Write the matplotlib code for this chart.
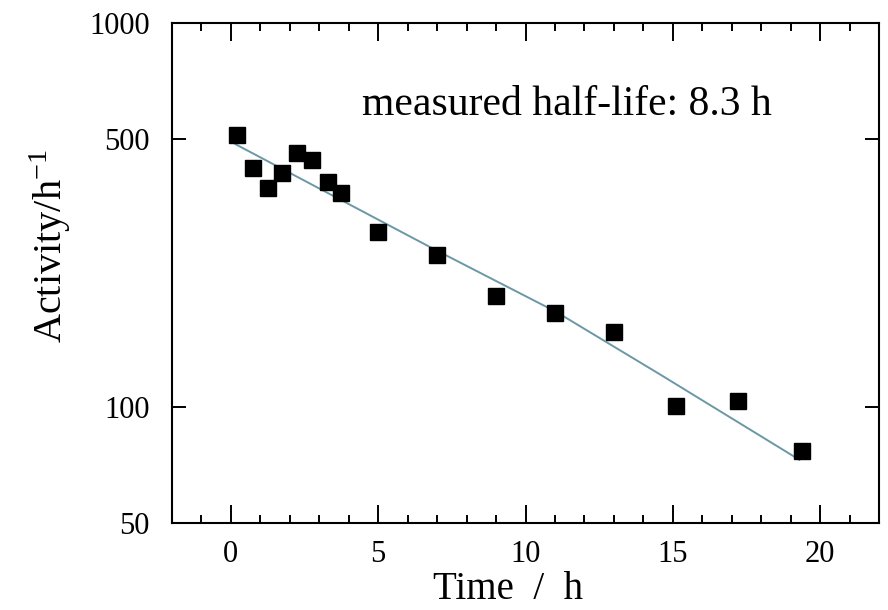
import matplotlib
matplotlib.use("Agg")
import matplotlib.pyplot as plt
from matplotlib.ticker import FixedLocator, MultipleLocator, NullLocator, FixedFormatter

# measured activity
time_h = [0.2, 0.75, 1.25, 1.75, 2.25, 2.75, 3.3, 3.75, 5.0, 7.0, 9.0, 11.0, 13.0, 15.1, 17.2, 19.4]
activity = [511, 420, 372, 407, 458, 440, 386, 362, 286, 249, 195, 176, 157, 101, 104, 77]

# fitted curve, points
fit_time = [0.15, 6.85, 11.05, 14.55, 19.3]
fit_activity = [484, 259, 177, 122, 73]

y_ticks = [50, 100, 500, 1000]
y_ticklabels = ['50', '100', '500', '1000']

plt.rcParams['font.family'] = ['Liberation Serif', 'DejaVu Serif']
plt.rcParams['mathtext.fontset'] = 'stix'

fig = plt.figure(figsize=(8.88, 6.10), dpi=100)
ax = fig.add_axes([0.1937, 0.1426, 0.7962, 0.8197])

ax.plot(fit_time, fit_activity, color='#6b98a6', lw=1.4, zorder=2)
ax.plot(time_h, activity, 's', color='black', markersize=11.5, zorder=3)

ax.set_yscale('log')
ax.set_xlim(-2, 22)
ax.set_ylim(50, 1000)

ax.xaxis.set_major_locator(MultipleLocator(5))
ax.xaxis.set_minor_locator(MultipleLocator(1))
ax.yaxis.set_major_locator(FixedLocator(y_ticks))
ax.yaxis.set_major_formatter(FixedFormatter(y_ticklabels))
ax.yaxis.set_minor_locator(NullLocator())

ax.tick_params(axis='x', which='major', direction='in', length=13, width=1.4,
               top=True, labelsize=22, pad=12)
ax.tick_params(axis='x', which='minor', direction='in', length=6, width=1.4, top=True)
ax.tick_params(axis='y', which='major', direction='in', length=10, width=1.4,
               right=True, labelsize=22, pad=16)
for s in ax.spines.values():
    s.set_linewidth(1.5)

ax.set_xlabel('Time  /  h', fontsize=28)
ax.xaxis.set_label_coords(0.475, -0.096)
ax.set_ylabel('Activity/h$^{\\mathregular{-1}}$', fontsize=29)
ax.yaxis.set_label_coords(-0.14, 0.554)

ax.text(4.45, 576, 'measured half-life: 8.3 h', fontsize=30, va='baseline', ha='left')

fig.savefig('out.png', dpi=100)
